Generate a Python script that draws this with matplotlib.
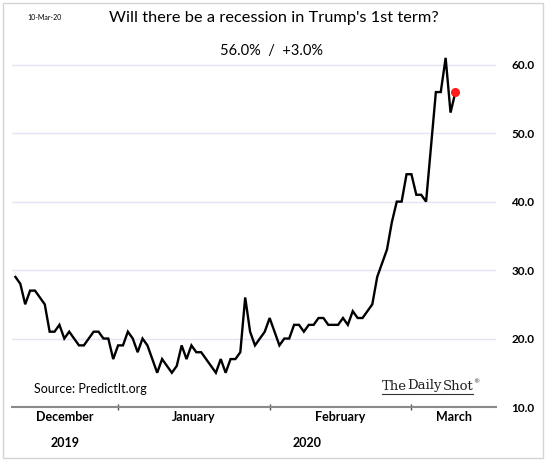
import matplotlib
matplotlib.use('Agg')
import matplotlib.pyplot as plt
import matplotlib.dates as mdates
import matplotlib.patches as mpatches
from matplotlib.lines import Line2D
import pandas as pd

# ---------------- data ----------------
start_date = '2019-12-11'
end_date = '2020-03-10'
values = [29, 28, 25, 27, 27, 26, 25, 21, 21, 22, 20, 21, 20, 19, 19, 20, 21, 21, 20, 20, 17,
          19, 19, 21, 20, 18, 20, 19, 17, 15, 17, 16, 15, 16, 19, 17, 19, 18, 18, 17, 16,
          15, 17, 15, 17, 17, 18, 26, 21, 19, 20, 21,
          23, 21, 19, 20, 20, 22, 22, 21, 22, 22, 23, 23, 22, 22, 22, 23, 22, 24, 23, 23,
          24, 25, 29, 31, 33, 37, 40, 40, 44,
          44, 41, 41, 40, 48, 56, 56, 61, 53, 56]
month_names = ['December', 'January', 'February', 'March']
month_starts = ['2019-12-01', '2020-01-01', '2020-02-01', '2020-03-01']
year_names = ['2019', '2020']
y_ticks = [10, 20, 30, 40, 50, 60]
title = "Will there be a recession in Trump's 1st term?"
subtitle = "56.0%  /  +3.0%"
date_label = "10-Mar-20"
source = "Source: PredictIt.org"
brand_words = ["The", "Daily", "Shot"]

dates = pd.date_range(start_date, end_date, freq='D')
xd = mdates.date2num(dates)

FONT = 'Lato'
W, H = 548, 463
fig = plt.figure(figsize=(W / 100, H / 100), dpi=100)
fig.patch.set_facecolor('white')

def fx(px):
    return px / W

def fy(py):
    return 1 - py / H

ax = fig.add_axes([fx(12), fy(407), fx(496) - fx(12), fy(51) - fy(407)])
ax.set_facecolor('white')

for yv in y_ticks[1:]:
    ax.axhline(yv, color='#e4e4f7', lw=1.0, zorder=1)

ax.plot(xd, values, color='black', lw=1.7, zorder=3, solid_joinstyle='miter')
ax.plot(xd[-1:], values[-1:], 'o', color='#ff1a1a', ms=5.5, zorder=4)

x_left = xd[0] - 0.7
x_right = mdates.date2num(pd.Timestamp('2020-03-18')) + 0.3
ax.set_xlim(x_left, x_right)
ax.set_ylim(10, 62)

for s in ['top', 'left', 'right']:
    ax.spines[s].set_visible(False)
ax.spines['bottom'].set_color('#8a8a8a')
ax.spines['bottom'].set_linewidth(1.5)

ms_num = [mdates.date2num(pd.Timestamp(m)) for m in month_starts]
ax.set_xticks(ms_num[1:])
ax.set_xticklabels([])
ax.tick_params(axis='x', which='major', direction='inout', length=5, width=1.0, color='#505050')
ax.set_xticks([ms_num[1]], minor=True)
ax.tick_params(axis='x', which='minor', direction='out', length=13, width=1.0, color='#505050')

ax.yaxis.tick_right()
ax.set_yticks(y_ticks)
ax.set_yticklabels([f'{v:.1f}' for v in y_ticks], fontfamily=FONT, fontweight='bold', fontsize=8.5)
ax.tick_params(axis='y', length=0, pad=11)

trans = ax.get_xaxis_transform()
bounds = [x_left] + ms_num[1:] + [x_right]
for i, name in enumerate(month_names):
    c = (bounds[i] + bounds[i + 1]) / 2
    ax.annotate(name, xy=(c, 0), xycoords=trans, xytext=(0, -10), textcoords='offset pixels',
                ha='center', va='center', fontfamily=FONT, fontweight='bold', fontsize=9)
ybounds = [x_left, ms_num[1], x_right]
for i, name in enumerate(year_names):
    c = (ybounds[i] + ybounds[i + 1]) / 2
    ax.annotate(name, xy=(c, 0), xycoords=trans, xytext=(0, -36), textcoords='offset pixels',
                ha='center', va='center', fontfamily=FONT, fontweight='bold', fontsize=9)

fig.text(fx(274), fy(18), title, ha='center', va='center', fontfamily=FONT, fontsize=11.8)
fig.text(fx(272), fy(51), subtitle, ha='center', va='center', fontfamily=FONT, fontsize=10.5)
fig.text(fx(27), fy(18), date_label, ha='left', va='center', fontfamily=FONT, fontsize=5)
fig.text(fx(34), fy(389), source, ha='left', va='center', fontfamily=FONT, fontsize=9)

# frame
fig.add_artist(mpatches.Rectangle((fx(3), fy(458)), fx(543) - fx(3), fy(3) - fy(458),
                                  transform=fig.transFigure, fill=False, ec='#d4d4d4', lw=1.0))

# brand with per-word underline
fig.canvas.draw()
renderer = fig.canvas.get_renderer()
xpos = 382
for w in brand_words:
    t = fig.text(fx(xpos), fy(386), w, ha='left', va='center', fontfamily='DejaVu Serif',
                 fontsize=9.5, color='#222222')
    bb = t.get_window_extent(renderer)
    fig.add_artist(Line2D([bb.x0 / W, bb.x1 / W], [(bb.y0 - 1.0) / H] * 2,
                          transform=fig.transFigure, color='#333333', lw=0.8))
    xpos = bb.x1 + 0.5
fig.text(fx(xpos - 0.5), fy(382), '®', ha='left', va='center', fontfamily='DejaVu Serif', fontsize=4.5,
         color='#222222')

fig.savefig('out.png', dpi=100, facecolor='white')
